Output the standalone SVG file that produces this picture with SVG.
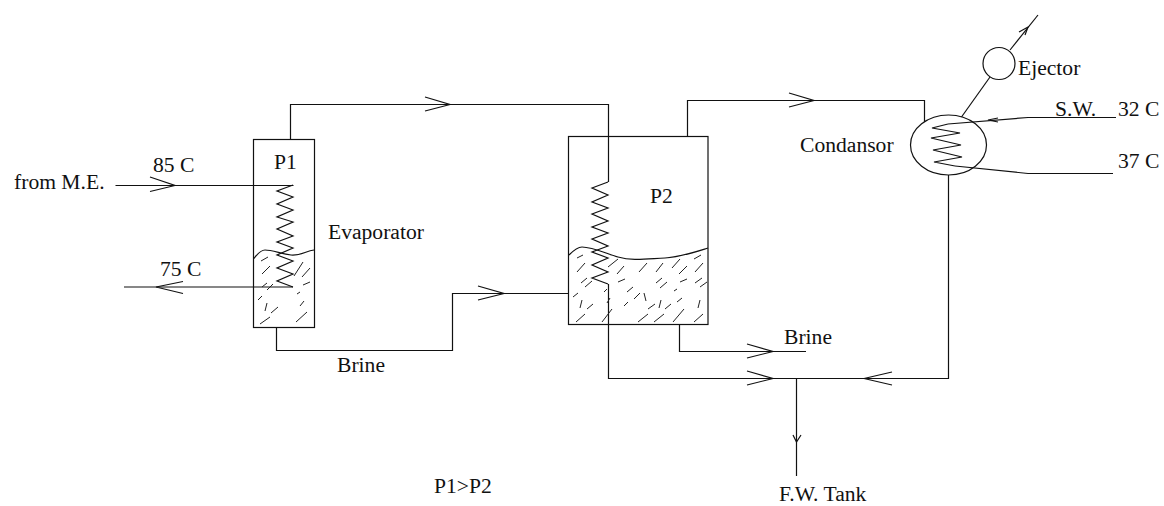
<svg xmlns="http://www.w3.org/2000/svg" width="1164" height="506" viewBox="0 0 1164 506">
<style>
.l{fill:none;stroke:#111;stroke-width:1.2;stroke-linejoin:miter}
.h{fill:none;stroke:#222;stroke-width:1}
text{font-family:"Liberation Serif","Times New Roman",serif;font-size:21.600px;fill:#111}
</style>
<rect width="1164" height="506" fill="#fff"/>
<g id="connectors" class="l">
<path d="M115.500 185.500H293.500"/>
<path d="M150 177L175 185.500L150 191.500"/>
<path d="M124 287H293"/>
<path d="M183 281.500L156 287L183 293.500"/>
<path d="M290.500 139V104.500H608.500V182"/>
<path d="M425 97L450 104.500L425 111"/>
<path d="M276.500 327V350.500H452.500V293.500H568"/>
<path d="M478 286L504 293.500L478 300"/>
<path d="M687.500 136V100.500H924.500V122"/>
<path d="M789 93L814 100.500L789 107"/>
<path d="M608.500 284V378.500H948.500V175"/>
<path d="M747 371L773 378.500L747 385"/>
<path d="M892 372L864 378.500L892 385"/>
<path d="M679.500 324V351.500H806"/>
<path d="M747 344L773 351.500L747 358"/>
<path d="M796.500 379V476"/>
<path d="M793 435L796.500 442L801 435"/>
<path d="M961.500 117L990 77"/>
<path d="M1010 50L1038 15"/>
<path d="M1019 32L1028 27L1025 35"/>
<path d="M1116 117.500H1028L948 124"/>
<path d="M998 118L988 120L998 122"/>
<path d="M955 166L1028 173.500H1113"/>
</g>
<g id="evaporator">
<rect class="l" x="253.500" y="139.500" width="61" height="188"/>
<path class="l" d="M293 185L277 191L293 197L277 204L293 210L277 217L293 222L277 229L293 236L277 242L293 248L277 255L293 261L277 268L293 274L277 281L293 287"/>
<path class="l" d="M253.500 259C258 253 262 250 265 250C272 250 282 254 291 255C300 256 306 251 314 250"/>
<path class="h" d="M261 261L268 257M262 274L270 266M262 287L267 283M267 290L273 284M258 300L262 296M265 311L267 303M271 313L278 307M260 324L270 317M294 276L303 262M302 277L310 268M303 285L310 282M297 294L300 292M300 306L304 301M296 322L307 312"/>
<text x="274" y="169">P1</text>
<text x="328" y="239">Evaporator</text>
</g>
<g id="p2-tank">
<rect class="l" x="568.500" y="136.500" width="139.500" height="188"/>
<path class="l" d="M608 182L592 188L608 195L592 202L608 208L592 214L608 221L592 227L608 233L592 239L608 246L592 252L608 258L592 265L608 272L592 278L608 284"/>
<path class="l" d="M569 255C574 250 578 247 582 247C592 247 605 253 618 257C632 261 645 259 665 258C680 257 695 252 708 248"/>
<path class="h" d="M577 258L583 255M577 272L585 263M581 283L587 278M585 287L592 281M573 297L578 293M580 308L582 300M587 309L593 304M576 322L585 314M602 322L612 309M604 292L607 289M607 303L610 298M608 267L618 259M617 274L624 266M618 282L625 279M627 292L633 287M624 306L628 302M634 299L640 293M646 301L644 293M638 322L648 314M639 272L647 263M656 272L663 263M648 309L655 304M659 308L661 300M665 309L671 304M677 302L682 298M654 322L664 314M656 283L662 278M660 288L667 282M672 268L680 259M679 274L687 266M680 282L687 279M674 291L677 289M673 322L684 309M695 272L703 263M694 259L701 255M695 283L702 278M700 287L707 282M698 308L700 300M694 322L703 314"/>
<text x="650" y="203">P2</text>
</g>
<g id="condensor">
<ellipse class="l" cx="948.500" cy="145" rx="38" ry="30"/>
<path class="l" d="M948 124L932 128L960 133L931 138L961 145L933 150L962 157L934 162L955 166"/>
<text x="800" y="152">Condansor</text>
</g>
<g id="ejector">
<circle class="l" cx="999" cy="63.500" r="16"/>
<text x="1018" y="75">Ejector</text>
</g>
<g id="labels">
<text x="14" y="189">from M.E.</text>
<text x="153" y="172">85 C</text>
<text x="160" y="276">75 C</text>
<text x="337" y="372">Brine</text>
<text x="784" y="344">Brine</text>
<text x="1055" y="116">S.W.</text>
<text x="1118" y="116">32 C</text>
<text x="1118" y="168">37 C</text>
<text x="434" y="493">P1&gt;P2</text>
<text x="779" y="501">F.W. Tank</text>
</g>
</svg>
